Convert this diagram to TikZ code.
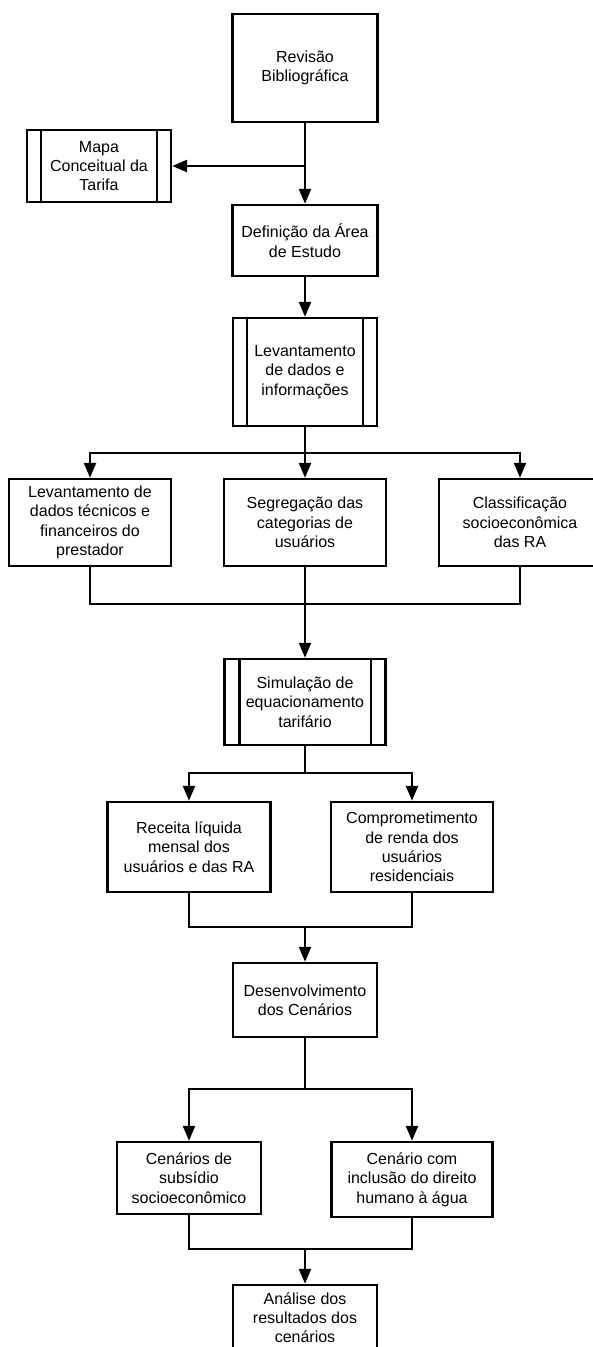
\documentclass[tikz,border=0pt]{standalone}
\usepackage{fontspec}
\setmainfont{Liberation Sans}
\usetikzlibrary{arrows.meta}

\tikzset{
    etapa/.style={draw, line width=2.4pt, align=center, inner sep=0pt,
        font=\fontsize{16}{19.3}\selectfont},
    seta/.style={line width=2.4pt, -{Triangle[length=15pt,width=12pt]}},
    linha/.style={line width=2.4pt}
}

\begin{document}
\begin{tikzpicture}[x=1pt, y=-1pt]
    \useasboundingbox (0,0) rectangle (593,1347);
    \clip (0,0) rectangle (593,1347);

    % First steps
    \node[etapa, minimum width=145, minimum height=108] (rev) at (305,68) {Revisão\\Bibliográfica};
    \node[etapa, minimum width=144, minimum height=72] (mapa) at (99,166) {Mapa\\Conceitual da\\Tarifa};
    \node[etapa, minimum width=145, minimum height=71] (area) at (305,240.5) {Definição da Área\\de Estudo};
    \node[etapa, minimum width=144, minimum height=108] (lev) at (305,372) {Levantamento\\de dados e\\informações};

    % Data collection branches
    \node[etapa, minimum width=162, minimum height=87] (tec) at (90,522.5) {Levantamento de\\dados técnicos e\\financeiros do\\prestador};
    \node[etapa, minimum width=162, minimum height=87] (seg) at (305,522.5) {Segregação das\\categorias de\\usuários};
    \node[etapa, minimum width=162, minimum height=87] (socio) at (520,522.5) {Classificação\\socioeconômica\\das RA};

    % Tariff simulation
    \node[etapa, minimum width=161, minimum height=86] (sim) at (305,702) {Simulação de\\equacionamento\\tarifário};
    \node[etapa, minimum width=163, minimum height=90] (rec) at (189,847) {Receita líquida\\mensal dos\\usuários e das RA};
    \node[etapa, minimum width=162, minimum height=90] (comp) at (412,847) {Comprometimento\\de renda dos\\usuários\\residenciais};

    % Scenarios
    \node[etapa, minimum width=144, minimum height=74] (cen) at (305,1000) {Desenvolvimento\\dos Cenários};
    \node[etapa, minimum width=144, minimum height=72] (sub) at (189,1178) {Cenários de\\subsídio\\socioeconômico};
    \node[etapa, minimum width=161, minimum height=75] (dir) at (412,1179.5) {Cenário com\\inclusão do direito\\humano à água};
    \node[etapa, minimum width=144, minimum height=65] (ana) at (305,1317.5) {Análise dos\\resultados dos\\cenários};

    % Double side lines of the sub-process boxes
    \draw[linha] ([xshift=15]mapa.north west) -- ([xshift=15]mapa.south west);
    \draw[linha] ([xshift=-15]mapa.north east) -- ([xshift=-15]mapa.south east);
    \draw[linha] ([xshift=15]lev.north west) -- ([xshift=15]lev.south west);
    \draw[linha] ([xshift=-15]lev.north east) -- ([xshift=-15]lev.south east);
    \draw[linha] ([xshift=16]sim.north west) -- ([xshift=16]sim.south west);
    \draw[linha] ([xshift=-16]sim.north east) -- ([xshift=-16]sim.south east);

    % Split and join points
    \coordinate (split1) at (305,453);
    \coordinate (join1) at (305,604);
    \coordinate (split2) at (305,773);
    \coordinate (join2) at (305,927);
    \coordinate (split3) at (305,1089);
    \coordinate (join3) at (305,1249);

    % Connectors
    \draw[seta] (rev.south) -- (area.north);
    \draw[seta] (rev.south |- mapa.east) -- (mapa.east);
    \draw[seta] (area.south) -- (lev.north);

    \draw[linha] (lev.south) -- (split1);
    \draw[seta] (split1) -| (tec.north);
    \draw[seta] (split1) -- (seg.north);
    \draw[seta] (split1) -| (socio.north);
    \draw[linha] (tec.south) |- (join1) -| (socio.south);
    \draw[linha] (seg.south) -- (join1);
    \draw[seta] (join1) -- (sim.north);

    \draw[linha] (sim.south) -- (split2);
    \draw[seta] (split2) -| (rec.north);
    \draw[seta] (split2) -| (comp.north);
    \draw[linha] (rec.south) |- (join2) -| (comp.south);
    \draw[seta] (join2) -- (cen.north);

    \draw[linha] (cen.south) -- (split3);
    \draw[seta] (split3) -| (sub.north);
    \draw[seta] (split3) -| (dir.north);
    \draw[linha] (sub.south) |- (join3) -| (dir.south);
    \draw[seta] (join3) -- (ana.north);
\end{tikzpicture}
\end{document}
